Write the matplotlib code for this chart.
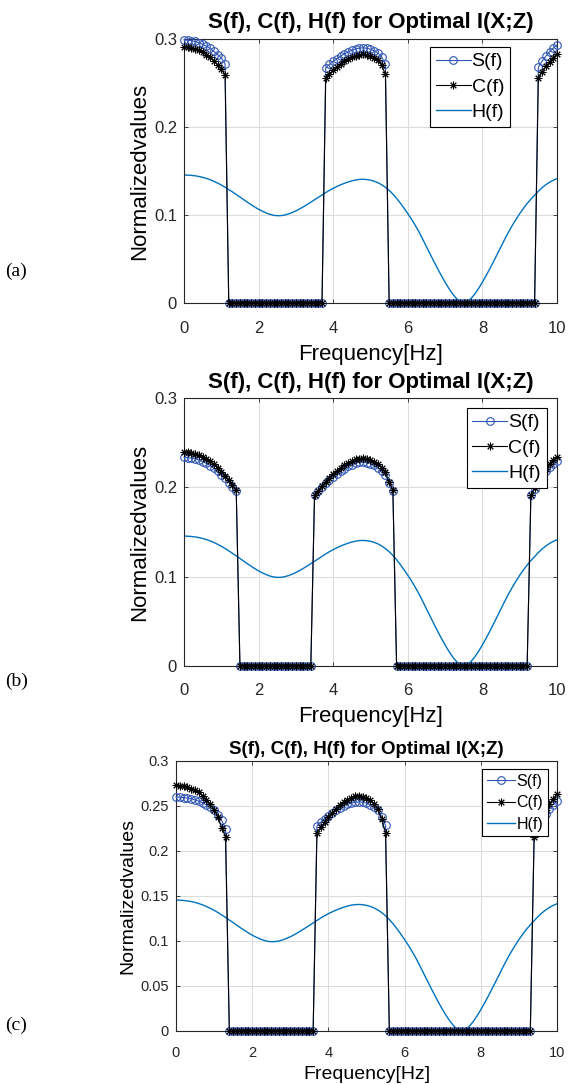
import numpy as np
import matplotlib
matplotlib.use("Agg")
import matplotlib.pyplot as plt

# --------------------------------------------------
# values (0..10 Hz, 0.1 Hz grid)
# --------------------------------------------------

freq = np.round(np.arange(101) * 0.1, 1)

# channel response H(f), same in all three panels
H_vals = [
    0.1455, 0.1453, 0.1450, 0.1445, 0.1438, 0.1428, 0.1416, 0.1401, 0.1383, 0.1363,
    0.1341, 0.1316, 0.1289, 0.1262, 0.1233, 0.1204, 0.1174, 0.1145, 0.1117, 0.1090,
    0.1065, 0.1043, 0.1024, 0.1008, 0.0997, 0.0992, 0.0993, 0.1000, 0.1012, 0.1028,
    0.1047, 0.1069, 0.1093, 0.1119, 0.1146, 0.1173, 0.1200, 0.1228, 0.1255, 0.1280,
    0.1303, 0.1324, 0.1343, 0.1360, 0.1375, 0.1388, 0.1398, 0.1404, 0.1406, 0.1403,
    0.1396, 0.1384, 0.1367, 0.1344, 0.1315, 0.1280, 0.1238, 0.1190, 0.1136, 0.1077,
    0.1016, 0.0952, 0.0882, 0.0808, 0.0725, 0.0640, 0.0556, 0.0472, 0.0390, 0.0311,
    0.0236, 0.0166, 0.0104, 0.0053, 0.0016, 0.0000, 0.0016, 0.0053, 0.0104, 0.0166,
    0.0236, 0.0311, 0.0390, 0.0472, 0.0556, 0.0640, 0.0725, 0.0805, 0.0880, 0.0950,
    0.1015, 0.1075, 0.1130, 0.1180, 0.1225, 0.1270, 0.1310, 0.1344, 0.1372, 0.1395,
    0.1413,
]

# S(f) and C(f): zero outside the bands, values inside each band
# panel (a)
S_a_bands = [
    (0.0, [0.2990, 0.2986, 0.2981, 0.2972, 0.2959, 0.2941, 0.2920, 0.2893, 0.2860,
           0.2824, 0.2785, 0.2720]),
    (3.8, [0.2675, 0.2712, 0.2746, 0.2777, 0.2806, 0.2831, 0.2853, 0.2873, 0.2888,
           0.2897, 0.2900, 0.2895, 0.2885, 0.2867, 0.2842, 0.2795, 0.2715]),
    (9.5, [0.2680, 0.2748, 0.2805, 0.2855, 0.2897, 0.2932]),
]
C_a_bands = [
    (0.0, [0.2910, 0.2906, 0.2899, 0.2888, 0.2873, 0.2851, 0.2824, 0.2791, 0.2752,
           0.2708, 0.2659, 0.2590]),
    (3.8, [0.2561, 0.2604, 0.2645, 0.2682, 0.2715, 0.2745, 0.2771, 0.2794, 0.2811,
           0.2822, 0.2825, 0.2820, 0.2808, 0.2787, 0.2757, 0.2700, 0.2600]),
    (9.5, [0.2560, 0.2630, 0.2690, 0.2740, 0.2790, 0.2830]),
]

# panel (b)
S_b_bands = [
    (0.0, [0.2335, 0.2332, 0.2327, 0.2318, 0.2306, 0.2289, 0.2269, 0.2244, 0.2213,
           0.2180, 0.2142, 0.2100, 0.2054, 0.2009, 0.1960]),
    (3.5, [0.1917, 0.1960, 0.2004, 0.2046, 0.2085, 0.2121, 0.2154, 0.2184, 0.2211,
           0.2234, 0.2255, 0.2270, 0.2280, 0.2283, 0.2278, 0.2267, 0.2248, 0.2222,
           0.2186, 0.2140, 0.2050, 0.1960]),
    (9.3, [0.1910, 0.1984, 0.2057, 0.2122, 0.2178, 0.2223, 0.2261, 0.2290]),
]
C_b_bands = [
    (0.0, [0.2395, 0.2391, 0.2385, 0.2376, 0.2363, 0.2343, 0.2320, 0.2292, 0.2257,
           0.2219, 0.2177, 0.2130, 0.2078, 0.2026, 0.1971]),
    (3.5, [0.1917, 0.1964, 0.2014, 0.2061, 0.2105, 0.2146, 0.2183, 0.2216, 0.2246,
           0.2272, 0.2295, 0.2313, 0.2323, 0.2327, 0.2322, 0.2309, 0.2288, 0.2258,
           0.2218, 0.2167, 0.2060, 0.1970]),
    (9.3, [0.1911, 0.1993, 0.2075, 0.2148, 0.2209, 0.2260, 0.2302, 0.2335]),
]

# panel (c)
S_c_bands = [
    (0.0, [0.2600, 0.2598, 0.2594, 0.2588, 0.2580, 0.2568, 0.2553, 0.2535, 0.2512,
           0.2485, 0.2450, 0.2400, 0.2340, 0.2245]),
    (3.7, [0.2280, 0.2320, 0.2357, 0.2392, 0.2423, 0.2451, 0.2476, 0.2499, 0.2518,
           0.2533, 0.2542, 0.2545, 0.2541, 0.2530, 0.2512, 0.2487, 0.2453, 0.2380,
           0.2286]),
    (9.4, [0.2190, 0.2275, 0.2350, 0.2415, 0.2470, 0.2515, 0.2556]),
]
C_c_bands = [
    (0.0, [0.2730, 0.2726, 0.2718, 0.2707, 0.2692, 0.2673, 0.2650, 0.2610, 0.2570,
           0.2520, 0.2460, 0.2380, 0.2260, 0.2157]),
    (3.7, [0.2200, 0.2263, 0.2321, 0.2374, 0.2423, 0.2466, 0.2506, 0.2540, 0.2570,
           0.2594, 0.2607, 0.2612, 0.2605, 0.2589, 0.2561, 0.2522, 0.2469, 0.2350,
           0.2205]),
    (9.4, [0.2150, 0.2265, 0.2365, 0.2450, 0.2520, 0.2580, 0.2630]),
]

xticks = [0, 2, 4, 6, 8, 10]
yticks_ab = [0, 0.1, 0.2, 0.3]
ytick_labels_ab = ["0", "0.1", "0.2", "0.3"]
yticks_c = [0, 0.05, 0.1, 0.15, 0.2, 0.25, 0.3]
ytick_labels_c = ["0", "0.05", "0.1", "0.15", "0.2", "0.25", "0.3"]
panel_tags = ["(a)", "(b)", "(c)"]


def spread(bands):
    vals = np.zeros(len(freq))
    for f0, seg in bands:
        i0 = int(round(f0 * 10))
        vals[i0:i0 + len(seg)] = seg
    return vals


# --------------------------------------------------
# Plot
# --------------------------------------------------

plt.rcParams["font.family"] = ["Liberation Sans", "DejaVu Sans"]

fig = plt.figure(figsize=(5.77, 10.84), dpi=100)

# [left, bottom, width, height], legend anchor, font sizes
panels = [
    dict(rect=[0.3189, 0.7205, 0.6464, 0.2435], S=S_a_bands, C=C_a_bands,
         yt=yticks_ab, ytl=ytick_labels_ab, leg=(0.874, 0.970),
         fs_tick=12, fs_lab=16, fs_title=16, fs_leg=14, tag_y=271,
         xpad=13, xlpad=6, tpad=8),
    dict(rect=[0.3189, 0.3856, 0.6464, 0.2472], S=S_b_bands, C=C_b_bands,
         yt=yticks_ab, ytl=ytick_labels_ab, leg=(0.973, 0.963),
         fs_tick=12, fs_lab=16, fs_title=16, fs_leg=14, tag_y=681,
         xpad=12, xlpad=6, tpad=7),
    dict(rect=[0.3050, 0.0489, 0.6603, 0.2491], S=S_c_bands, C=C_c_bands,
         yt=yticks_c, ytl=ytick_labels_c, leg=(0.976, 0.970),
         fs_tick=10.5, fs_lab=14, fs_title=13.5, fs_leg=11.5, tag_y=1025,
         xpad=11, xlpad=4, tpad=5),
]

S_col = "#2f55b5"
H_col = "#0072BD"

for p, tag in zip(panels, panel_tags):
    ax = fig.add_axes(p["rect"])
    S = spread(p["S"])
    C = spread(p["C"])

    ax.plot(freq, S, "-o", color=S_col, lw=0.8, ms=5.5, mfc="none", mew=0.8,
            label="S(f)", clip_on=False, zorder=3)
    ax.plot(freq, C, "-", marker=(8, 2, 0), color="black", lw=0.8, ms=5.5, mew=0.7,
            label="C(f)", clip_on=False, zorder=3)
    ax.plot(freq, H_vals, "-", color=H_col, lw=1.0, label="H(f)", zorder=2)

    ax.set_xlim(0, 10)
    ax.set_ylim(0, 0.3)
    ax.set_xticks(xticks)
    ax.set_yticks(p["yt"])
    ax.set_yticklabels(p["ytl"])
    ax.tick_params(direction="in", length=3, width=0.6, colors="#262626",
                   labelsize=p["fs_tick"], top=True, right=True, pad=5)
    ax.tick_params(axis="x", pad=p["xpad"])
    ax.grid(True, color="#dcdcdc", lw=0.8)
    ax.set_axisbelow(True)
    for s in ax.spines.values():
        s.set_color("#262626")
        s.set_linewidth(0.8)

    ax.set_xlabel("Frequency[Hz]", fontsize=p["fs_lab"], labelpad=p["xlpad"])
    ax.set_ylabel("Normalizedvalues", fontsize=p["fs_lab"], labelpad=3)
    ax.set_title("S(f), C(f), H(f) for Optimal I(X;Z)", fontsize=p["fs_title"],
                 fontweight="bold", pad=p["tpad"])

    leg = ax.legend(loc="upper right", bbox_to_anchor=p["leg"], fontsize=p["fs_leg"],
                    frameon=True, fancybox=False, framealpha=1, edgecolor="black",
                    handlelength=1.8, handletextpad=0.05, borderpad=0.3,
                    labelspacing=0.4, borderaxespad=0)
    leg.get_frame().set_linewidth(0.8)
    leg.set_zorder(10)

    fig.text(5 / 577, 1 - p["tag_y"] / 1084, tag, fontsize=14,
             family=["Liberation Serif", "DejaVu Serif"], ha="left", va="center")

fig.savefig("out.png", dpi=100)
